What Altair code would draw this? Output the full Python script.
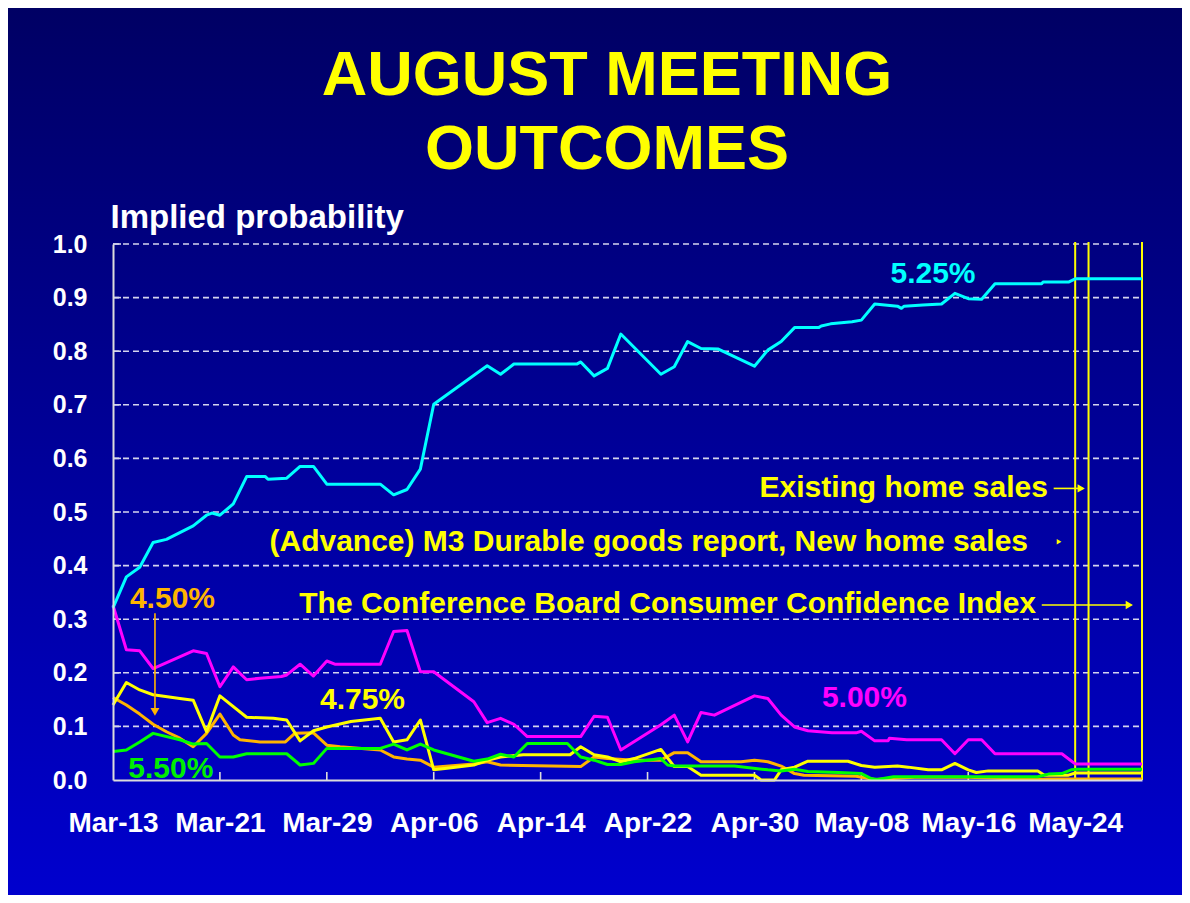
import altair as alt
import pandas as pd

FONT = "Liberation Sans"

# ---------------- data ----------------
tick_labels = ["Mar-13", "Mar-21", "Mar-29", "Apr-06", "Apr-14",
               "Apr-22", "Apr-30", "May-08", "May-16", "May-24"]
tick_days = [0, 8, 16, 24, 32, 40, 48, 56, 64, 72]   # days after Mar-13
y_ticks = [0.0, 0.1, 0.2, 0.3, 0.4, 0.5, 0.6, 0.7, 0.8, 0.9, 1.0]

# 5.25%
cyan_days = [0, 1, 2, 3, 4, 6, 7, 7.4, 8, 9, 10, 11.4, 11.6, 13, 14, 15, 16, 20, 21, 22,
             23, 24, 28, 29, 30, 34.7, 35, 36, 37, 38, 41, 42, 43, 44, 45.3, 48, 49, 50,
             51, 52.8, 53, 53.7, 55.3, 56, 57, 58.7, 59, 59.2, 60.6, 62, 63, 64, 65, 66,
             69.5, 69.6, 71.5, 72, 77]
cyan_vals = [0.321, 0.379, 0.397, 0.443, 0.449, 0.474, 0.494, 0.498, 0.494, 0.515, 0.566,
             0.566, 0.561, 0.563, 0.585, 0.585, 0.552, 0.552, 0.532, 0.542,
             0.580, 0.701, 0.773, 0.757, 0.776, 0.776, 0.780, 0.754, 0.768, 0.832, 0.757,
             0.771, 0.818, 0.805, 0.804, 0.772, 0.802, 0.818,
             0.844, 0.844, 0.847, 0.851, 0.855, 0.858, 0.888, 0.884, 0.880, 0.884, 0.886,
             0.888, 0.908, 0.898, 0.897, 0.926,
             0.926, 0.929, 0.929, 0.935, 0.935]

# 5.00%
mag_days = [0, 1, 2, 3, 6, 7, 8, 9, 10, 11, 12.6, 13, 14, 15, 16, 16.6, 20, 21, 22, 23, 24,
            27, 28, 29, 30, 31, 35, 36, 37, 38, 41, 42, 43, 44, 45, 48, 49, 50, 51, 52,
            53.8, 55.6, 56, 57, 58, 58.1, 59.4, 62, 63, 64, 65, 66, 71, 72, 77]
mag_vals = [0.326, 0.243, 0.241, 0.208, 0.241, 0.236, 0.174, 0.211, 0.187, 0.190, 0.193,
            0.196, 0.216, 0.194, 0.222, 0.216, 0.216, 0.277, 0.279, 0.202, 0.202,
            0.146, 0.107, 0.115, 0.104, 0.081, 0.081, 0.119, 0.117, 0.056, 0.103, 0.121,
            0.071, 0.126, 0.121, 0.157, 0.152, 0.121, 0.099, 0.092,
            0.088, 0.088, 0.091, 0.073, 0.073, 0.078, 0.075, 0.075, 0.049, 0.075, 0.075,
            0.049, 0.049, 0.030, 0.030]

# 4.75%
yel_days = [0, 1, 2, 3, 5, 6, 7, 8, 10, 12, 13, 14, 15, 16, 17.8, 20, 21, 22, 23, 24, 25,
            27, 28, 29, 30.7, 34.2, 35, 36, 37, 38, 39, 41, 42, 43, 44, 48, 48.5, 49.5, 50,
            51, 52, 55, 56, 57, 58.7, 59.5, 61, 62, 63, 64, 64.6, 65.5, 69.2, 69.7, 71.5,
            72, 77]
yel_vals = [0.140, 0.182, 0.168, 0.159, 0.152, 0.149, 0.090, 0.157, 0.117, 0.115, 0.112,
            0.073, 0.092, 0.099, 0.109, 0.115, 0.071, 0.075, 0.112, 0.019, 0.022,
            0.028, 0.037, 0.043, 0.047, 0.047, 0.062, 0.047, 0.043, 0.034, 0.040, 0.057,
            0.025, 0.025, 0.009, 0.009, 0.0, 0.0, 0.019,
            0.024, 0.035, 0.035, 0.027, 0.024, 0.026, 0.024, 0.019, 0.019, 0.031, 0.019,
            0.014, 0.017, 0.017, 0.009, 0.009, 0.013, 0.013]

# 5.50%
grn_days = [0, 1, 2, 3, 5, 6, 7, 8, 9, 10, 13, 14, 15, 16, 20, 21, 22, 23, 24, 27, 28, 29,
            30, 31, 34, 35, 36, 37, 38, 39, 40, 41, 41.5, 42, 46.5, 49, 50, 51, 52, 54.3,
            56, 56.7, 57.2, 58.4, 69.2, 70, 71, 71.7, 72.2, 77]
grn_vals = [0.053, 0.056, 0.071, 0.087, 0.075, 0.067, 0.068, 0.043, 0.043, 0.049, 0.049,
            0.028, 0.031, 0.059, 0.059, 0.067, 0.056, 0.067, 0.056, 0.035, 0.039, 0.048,
            0.043, 0.068, 0.068, 0.043, 0.037, 0.029, 0.029, 0.034, 0.037, 0.040, 0.028,
            0.026, 0.026, 0.019, 0.017, 0.020, 0.016, 0.014,
            0.012, 0.003, 0.001, 0.006, 0.006, 0.011, 0.012, 0.019, 0.020, 0.020]

# 4.50%
org_days = [0, 1, 2, 3, 4, 5, 6, 7, 8, 9, 9.5, 11, 12.9, 13.6, 15, 16, 17, 20, 21, 22, 23,
            24, 27, 28, 29, 35, 36, 37, 39, 41, 42, 43, 44, 47, 48, 49, 50, 51, 51.7, 55.6,
            57, 60, 64, 69, 70, 77]
org_vals = [0.154, 0.140, 0.123, 0.104, 0.090, 0.078, 0.062, 0.087, 0.123, 0.084, 0.075,
            0.071, 0.071, 0.087, 0.088, 0.065, 0.062, 0.056, 0.043, 0.039, 0.037,
            0.024, 0.030, 0.034, 0.028, 0.025, 0.043, 0.040, 0.037, 0.037, 0.051, 0.051,
            0.034, 0.034, 0.037, 0.034, 0.026, 0.012, 0.009, 0.007,
            0.001, 0.005, 0.005, 0.001, 0.002, 0.002]

series_names = ["4.50%", "4.75%", "5.00%", "5.25%", "5.50%"]
series_colors = ["#FFB400", "#FFFF00", "#FF00FF", "#00FFFF", "#00FF00"]
series_data = [(org_days, org_vals), (yel_days, yel_vals), (mag_days, mag_vals),
               (cyan_days, cyan_vals), (grn_days, grn_vals)]
draw_order = ["4.50%", "4.75%", "5.00%", "5.25%", "5.50%"]

# release-date markers (days after Mar-13)
event_days = [72, 73, 77]

# annotations
lab_text = ["5.25%", "4.50%", "4.75%", "5.00%", "5.50%"]
lab_day = [61.36, 4.45, 18.67, 56.23, 4.33]
lab_val = [0.928, 0.320, 0.1325, 0.1356, 0.003]
lab_color = ["#00FFFF", "#FFB400", "#FFFF00", "#FF00FF", "#00EE00"]

ev_text = ["Existing home sales",
           "(Advance) M3 Durable goods report, New home sales",
           "The Conference Board Consumer Confidence Index"]
ev_day = [69.96, 68.47, 69.07]
ev_val = [0.5285, 0.427, 0.311]

arrow_day = [70.39, 69.5, 3.14]
arrow_day2 = [72.6, 76.2, 3.14]
arrow_val = [0.544, 0.3265, 0.311]
arrow_val2 = [0.544, 0.3265, 0.125]
arrow_color = ["#FFFF00", "#FFFF00", "#FFB400"]

head_day = [72.45, 76.05, 70.8, 3.14]
head_val = [0.544, 0.3265, 0.4446, 0.127]
head_shape = ["triangle-right", "triangle-right", "triangle-right", "triangle-down"]
head_color = ["#FFFF00", "#FFFF00", "#FFFF00", "#FFB400"]
head_size = [70, 70, 30, 80]

# ---------------- chart ----------------
W, H = 1029, 536

xscale = alt.Scale(domain=[0, 77], nice=False, zero=False)
yscale = alt.Scale(domain=[0, 1], nice=False, zero=True)

label_expr = "[" + ",".join("'%s'" % t for t in tick_labels) + "][round(datum.value/8)]"

xaxis = alt.Axis(values=tick_days, labelExpr=label_expr, title=None, grid=False,
                 ticks=False, domainColor="#DCDCDC", domainWidth=2, labelColor="white",
                 labelFont=FONT, labelFontSize=28, labelFontWeight="bold",
                 labelPadding=29, labelFlush=False, labelOverlap=False, zindex=1)
yaxis = alt.Axis(values=y_ticks, format=".1f", title="Implied probability",
                 titleAngle=0, titleAlign="left", titleBaseline="alphabetic",
                 titleX=-3, titleY=-17, titleFont=FONT, titleFontSize=33,
                 titleFontWeight="bold", titleColor="white", grid=False, ticks=False,
                 domainColor="#DCDCDC", domainWidth=2, labelColor="white",
                 labelFont=FONT, labelFontSize=25, labelFontWeight="bold",
                 labelPadding=26, labelFlush=False, labelOverlap=False, zindex=1)

X = alt.X("day:Q", scale=xscale, axis=xaxis)
Y = alt.Y("val:Q", scale=yscale, axis=yaxis)

one = pd.DataFrame({"k": [0]})

gradient = alt.LinearGradient(
    gradient="linear",
    stops=[alt.GradientStop(color="#000064", offset=0),
           alt.GradientStop(color="#0000CE", offset=1)],
    x1=0, x2=0, y1=0, y2=1)

bg = alt.Chart(one).mark_rect(color=gradient).encode(
    x=alt.value(-105), x2=alt.value(W + 40), y=alt.value(-236), y2=alt.value(H + 115))

grid = alt.Chart(pd.DataFrame({"val": y_ticks[1:]})).mark_rule(
    color="#D4D4EE", strokeWidth=1.6, strokeDash=[6, 4]).encode(
    y=Y, x=alt.value(0), x2=alt.value(W - 3))

ytick_marks = alt.Chart(pd.DataFrame({"val": y_ticks[1:]})).mark_rule(
    color="#D4D4EE", strokeWidth=1.6).encode(y=Y, x=alt.value(0), x2=alt.value(8))

xtick_marks = alt.Chart(pd.DataFrame({"day": tick_days[1:]})).mark_rule(
    color="#DCDCDC", strokeWidth=1.6).encode(x=X, y=alt.value(H - 8), y2=alt.value(H))

events = alt.Chart(pd.DataFrame({"day": event_days})).mark_rule(
    color="#FFFF00", strokeWidth=2).encode(x=X, y=alt.value(-2), y2=alt.value(H))

line_layers = []
for name in draw_order:
    i = series_names.index(name)
    d, v = series_data[i]
    df = pd.DataFrame({"day": d, "val": v})
    line_layers.append(
        alt.Chart(df).mark_line(color=series_colors[i], strokeWidth=3,
                                strokeJoin="round").encode(x=X, y=Y))

labels = alt.Chart(pd.DataFrame({"day": lab_day, "val": lab_val, "t": lab_text,
                                 "c": lab_color})).mark_text(
    font=FONT, fontSize=30, fontWeight="bold", align="center",
    baseline="alphabetic").encode(x=X, y=Y, text="t:N",
                                  color=alt.Color("c:N", scale=None))

ev_labels = alt.Chart(pd.DataFrame({"day": ev_day, "val": ev_val, "t": ev_text})).mark_text(
    font=FONT, fontSize=30, fontWeight="bold", align="right", baseline="alphabetic",
    color="#FFFF00").encode(x=X, y=Y, text="t:N")

arrows = alt.Chart(pd.DataFrame({"day": arrow_day, "day2": arrow_day2, "val": arrow_val,
                                 "val2": arrow_val2, "c": arrow_color})).mark_rule(
    strokeWidth=1.6).encode(x=X, x2="day2:Q", y=Y, y2="val2:Q",
                            color=alt.Color("c:N", scale=None))

heads = alt.Chart(pd.DataFrame({"day": head_day, "val": head_val, "s": head_shape,
                                "c": head_color, "z": head_size})).mark_point(
    filled=True, opacity=1).encode(x=X, y=Y,
                                   shape=alt.Shape("s:N", scale=None),
                                   color=alt.Color("c:N", scale=None),
                                   size=alt.Size("z:Q", scale=None))

title = alt.Chart(one).mark_text(
    text=["AUGUST MEETING", "OUTCOMES"], lineHeight=74.3, font=FONT, fontSize=63,
    fontWeight="bold", color="#FFFF00", align="center", baseline="alphabetic").encode(
    x=alt.value(494), y=alt.value(-149))

chart = alt.layer(bg, grid, ytick_marks, xtick_marks, events, *line_layers,
                  labels, ev_labels, arrows, heads, title).properties(
    width=W, height=H,
    padding={"left": 105, "top": 236, "right": 40, "bottom": 115},
    autosize=alt.AutoSizeParams(type="none"),
    background="#00009A",
).configure_view(stroke=None)

chart.save("out.html", embed_options={"renderer": "svg", "actions": False})
